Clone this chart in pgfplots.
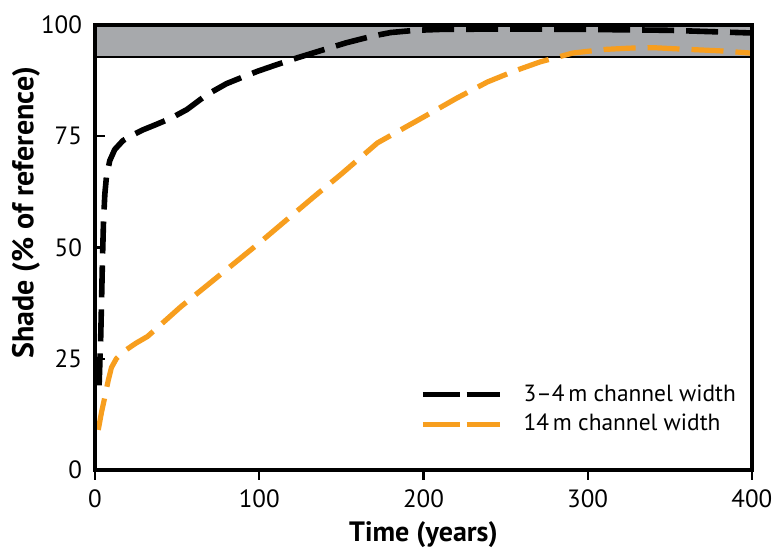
\documentclass[border=0pt]{standalone}
\usepackage{pgfplots}
\pgfplotsset{compat=1.18}
\usepackage{fontspec}
\setmainfont{PT Sans}
\definecolor{myorange}{RGB}{247,158,30}
\definecolor{bandgray}{RGB}{167,169,172}
\begin{document}
\begin{tikzpicture}
\begin{axis}[name=ax, scale only axis, width=328.5pt, height=222.5pt,
  xmin=0, xmax=400, ymin=0, ymax=100,
  xtick={0,100,200,300,400}, ytick={0,25,50,75,100},
  xtick pos=left, ytick pos=left,
  tick align=outside, major tick length=5pt,
  y tick style={xshift=5pt},
  tick style={black, line width=1.1pt},
  axis line style={line width=2pt},
  axis on top=true,
  tick label style={font=\fontsize{12.5}{14}\selectfont},
  /pgf/number format/assume math mode=true,
  xticklabel style={yshift=-1.5pt},
  yticklabel style={xshift=2pt},
  xlabel={Time (years)}, ylabel={Shade (\% of reference)},
  xlabel style={font=\fontsize{14}{16}\selectfont\bfseries, at={(axis description cs:0.5,-0.146)}, anchor=center},
  ylabel style={font=\fontsize{15}{17}\selectfont\bfseries, at={(axis description cs:-0.105,0.578)}, anchor=center},
  legend style={draw=none, fill=none, at={(rel axis cs:0.485,0.215)}, anchor=north west,
    font=\fontsize{11.7}{13}\selectfont, row sep=-1pt, cells={anchor=west},
    nodes={inner sep=3pt}},
  legend image code/.code={\draw[#1, dash pattern=on 18.5pt off 3.4pt] (0pt,0pt) -- (38.5pt,0pt);},
  legend columns=1,
]
\addplot[fill=bandgray, draw=black, line width=1.3pt, forget plot] coordinates {(0,92.8) (400,92.8) (400,100) (0,100)} -- cycle;
\addplot[black, line width=2.8pt, dash pattern=on 16pt off 6pt, line join=round] coordinates {
(2.5,19) (3.5,30) (4,38) (4.6,48) (5.2,56) (6,62) (7,66) (9,69.5) (12,72) (17,74) (23,75.3) (29,76.4) (37,77.6) (46,79) (56,81) (68,84.3) (80,86.8) (92,88.6) (99,89.6) (110,91) (123,92.6) (138,94.3) (153,96) (169,97.5) (180,98.3) (195,98.8) (210,99) (250,99.1) (300,99) (350,98.8) (400,98.2)};
\addlegendentry{\hspace{7.5pt}3–4\,m channel width}
\addplot[myorange, line width=2.6pt, dash pattern=on 16pt off 6pt, line join=round] coordinates {
(2,9) (4,13) (6,16.4) (8,20) (10,23) (13,25) (17,26.5) (25,28.5) (32,30) (52,36.6) (75,43.5) (100,51) (133,61.3) (150,66.5) (172,73.5) (200,79.3) (220,83.5) (239,87.2) (255,89.6) (271,91.7) (291,93.7) (310,94.5) (326,94.8) (340,94.9) (356,94.6) (380,94.2) (399,93.7)};
\addlegendentry{\hspace{7.5pt}14\,m channel width}
\end{axis}
\path ([shift={(-47.5pt,-41pt)}]ax.south west) rectangle ([shift={(342pt,235pt)}]ax.south west);
\end{tikzpicture}
\end{document}
